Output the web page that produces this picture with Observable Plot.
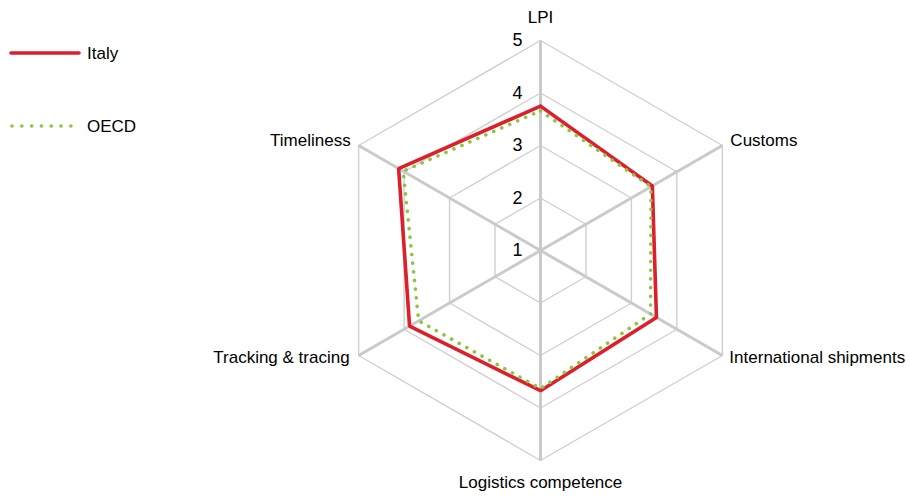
<!DOCTYPE html>
<html><head><meta charset="utf-8">
<script src="https://cdn.jsdelivr.net/npm/d3@7"></script>
<script src="https://cdn.jsdelivr.net/npm/@observablehq/plot@0.6"></script>
<style>
body{margin:0;background:#fff;}
#wrap{position:relative;width:910px;height:496px;overflow:hidden;font-family:"Liberation Sans",Arial,sans-serif;}
#legend{position:absolute;left:0;top:0;}
#chart svg{display:block;}
</style></head><body>
<div id="wrap"><div id="chart"></div><div id="legend"></div></div>
<script>
const categories = ["LPI","Customs","International shipments","Logistics competence","Tracking & tracing","Timeliness"];
const italy = [3.75, 3.46, 3.55, 3.67, 3.88, 4.12];
const oecd  = [3.66, 3.43, 3.42, 3.63, 3.68, 4.02];
const levels = [2, 3, 4, 5];
const tickValues = [1, 2, 3, 4, 5];
const tickLabels = ["1", "2", "3", "4", "5"];
const seriesNames = ["Italy", "OECD"];
const minV = 1, maxV = 5;

const n = categories.length;
const ang = i => (i * 2 * Math.PI) / n;
const px = (v, i) => (v - minV) * Math.sin(ang(i));
const py = (v, i) => (v - minV) * Math.cos(ang(i));

const ringPts = levels.flatMap(l => d3.range(n + 1).map(k => ({l, x: px(l, k % n), y: py(l, k % n)})));
const spokes = categories.map((c, i) => ({c, i, x1: 0, y1: 0, x2: px(maxV, i), y2: py(maxV, i)}));
const series = (name, vals) => d3.range(n + 1).map(k => ({name, x: px(vals[k % n], k % n), y: py(vals[k % n], k % n)}));
const italyPts = series(seriesNames[0], italy);
const oecdPts = series(seriesNames[1], oecd);
const ticks = tickValues.map((v, j) => ({label: tickLabels[j], x: 0, y: v - minV}));
const labels = categories.map((c, i) => ({c, i, x: px(maxV, i), y: py(maxV, i), s: Math.round(Math.sin(ang(i)) * 1000) / 1000, co: Math.cos(ang(i))}));

const font = "17px";
const ff = '"Liberation Sans",Arial,sans-serif';
const R = maxV - minV;
const chart = Plot.plot({
  width: 910, height: 496,
  margin: 0,
  x: {domain: [-R, R], range: [330, 750], axis: null},
  y: {domain: [-R, R], range: [460, 40], axis: null},
  style: {fontFamily: ff, background: "#fff", overflow: "visible"},
  marks: [
    Plot.line(ringPts, {x: "x", y: "y", z: "l", stroke: "#cfcfcf", strokeWidth: 1.4}),
    Plot.link(spokes, {x1: "x1", y1: "y1", x2: "x2", y2: "y2", stroke: "#cacaca", strokeWidth: 3}),
    Plot.line(italyPts, {x: "x", y: "y", stroke: "#dc1f2b", strokeWidth: 3.6, strokeLinejoin: "miter"}),
    Plot.line(oecdPts, {x: "x", y: "y", stroke: "#8cc63f", strokeWidth: 3.6, strokeDasharray: "0.1 8.6", strokeLinecap: "round"}),
    Plot.text(ticks, {x: "x", y: "y", text: "label", textAnchor: "end", dx: -18, fontSize: "18px", fill: "#000"}),
    Plot.text(labels.filter(d => d.s === 0 && d.co > 0), {x: "x", y: "y", text: "c", textAnchor: "middle", dy: -23, fontSize: font, fill: "#000"}),
    Plot.text(labels.filter(d => d.s === 0 && d.co < 0), {x: "x", y: "y", text: "c", textAnchor: "middle", dy: 22, fontSize: font, fill: "#000"}),
    Plot.text(labels.filter(d => d.s > 0 && d.co > 0), {x: "x", y: "y", text: "c", textAnchor: "start", dx: 8, dy: -5, fontSize: font, fill: "#000"}),
    Plot.text(labels.filter(d => d.s > 0 && d.co < 0), {x: "x", y: "y", text: "c", textAnchor: "start", dx: 7, dy: 2, fontSize: font, fill: "#000"}),
    Plot.text(labels.filter(d => d.s < 0 && d.co > 0), {x: "x", y: "y", text: "c", textAnchor: "end", dx: -8, dy: -5, fontSize: font, fill: "#000"}),
    Plot.text(labels.filter(d => d.s < 0 && d.co < 0), {x: "x", y: "y", text: "c", textAnchor: "end", dx: -9, dy: 2, fontSize: font, fill: "#000"})
  ]
});
document.getElementById("chart").appendChild(chart);

// legend
const lg = document.getElementById("legend");
lg.innerHTML = `
<svg width="200" height="150" style="font-family:'Liberation Sans',Arial,sans-serif;font-size:17px">
  <line x1="11" y1="53" x2="79" y2="53" stroke="#dc1f2b" stroke-width="3.6" stroke-linecap="round"/>
  <text x="87" y="53" dy="0.35em">${seriesNames[0]}</text>
  <line x1="12" y1="126" x2="71" y2="126" stroke="#8cc63f" stroke-width="3.6" stroke-linecap="round" stroke-dasharray="0.1 9.7"/>
  <text x="87" y="126" dy="0.35em">${seriesNames[1]}</text>
</svg>`;
</script>
</body></html>
